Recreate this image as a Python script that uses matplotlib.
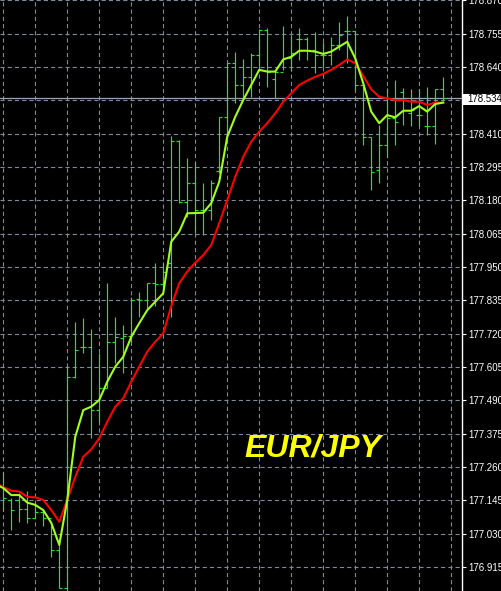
import matplotlib
matplotlib.use("Agg")
import matplotlib.pyplot as plt
from matplotlib.patches import Rectangle
import numpy as np

# ---- data (EUR/JPY HLC bars, bar index 0..55) ----
bar_high = [177.244, 177.153, 177.170, 177.178, 177.136, 177.112, 177.060, 177.008, 177.609, 177.761,
            177.775, 177.735, 177.653, 177.896, 177.778, 177.750, 177.846, 177.865, 177.896, 177.965,
            177.964, 178.402, 178.388, 178.325, 178.313, 178.239, 178.250, 178.467, 178.653, 178.693,
            178.666, 178.687, 178.770, 178.773, 178.630, 178.781, 178.750, 178.773, 178.742, 178.760,
            178.727, 178.744, 178.796, 178.816, 178.765, 178.578, 178.399, 178.440, 178.566, 178.595,
            178.566, 178.563, 178.563, 178.570, 178.563, 178.606]
bar_low = [177.112, 177.043, 177.071, 177.068, 177.084, 177.056, 176.950, 176.842, 176.840, 177.566,
           177.654, 177.359, 177.416, 177.531, 177.620, 177.585, 177.692, 177.776, 177.807, 177.815,
           177.877, 177.777, 178.170, 178.123, 178.066, 178.060, 178.112, 178.273, 178.399, 178.515,
           178.526, 178.537, 178.630, 178.572, 178.532, 178.630, 178.627, 178.664, 178.664, 178.620,
           178.641, 178.647, 178.699, 178.653, 178.561, 178.371, 178.216, 178.241, 178.330, 178.371,
           178.440, 178.436, 178.436, 178.405, 178.374, 178.526]
bar_open = [177.194, 177.146, 177.146, 177.115, 177.084, 177.105, 177.084, 176.974, 176.842, 177.570,
            177.674, 177.674, 177.457, 177.531, 177.692, 177.704, 177.712, 177.838, 177.836, 177.894,
            177.891, 177.964, 178.386, 178.175, 178.239, 178.147, 178.147, 178.280, 178.466, 178.653,
            178.578, 178.606, 178.681, 178.768, 178.597, 178.624, 178.670, 178.735, 178.735, 178.699,
            178.681, 178.681, 178.716, 178.765, 178.765, 178.578, 178.399, 178.285, 178.371, 178.464,
            178.555, 178.480, 178.474, 178.436, 178.436, 178.563]
bar_close = [177.153, 177.112, 177.115, 177.084, 177.105, 177.084, 176.974, 176.842, 177.570, 177.664,
             177.674, 177.457, 177.531, 177.690, 177.707, 177.712, 177.836, 177.836, 177.894, 177.891,
             177.933, 178.386, 178.175, 178.239, 178.147, 178.147, 178.239, 178.466, 178.653, 178.578,
             178.606, 178.681, 178.768, 178.624, 178.624, 178.670, 178.687, 178.735, 178.699, 178.681,
             178.681, 178.716, 178.750, 178.765, 178.578, 178.399, 178.279, 178.371, 178.464, 178.451,
             178.492, 178.492, 178.474, 178.436, 178.563, 178.534]

# moving averages, index -1..55
ma_fast = [177.201, 177.187, 177.163, 177.163, 177.137, 177.129, 177.111, 177.067, 176.991, 177.146,
           177.364, 177.456, 177.468, 177.491, 177.554, 177.606, 177.640, 177.709, 177.756, 177.801,
           177.830, 177.859, 178.037, 178.072, 178.135, 178.136, 178.137, 178.170, 178.244, 178.399,
           178.468, 178.526, 178.578, 178.630, 178.624, 178.624, 178.666, 178.675, 178.696, 178.696,
           178.693, 178.685, 178.693, 178.710, 178.727, 178.670, 178.584, 178.486, 178.446, 178.474,
           178.466, 178.489, 178.489, 178.505, 178.486, 178.512, 178.517]
ma_slow = [177.205, 177.190, 177.178, 177.175, 177.157, 177.155, 177.146, 177.111, 177.071, 177.146,
           177.226, 177.295, 177.321, 177.359, 177.416, 177.468, 177.497, 177.554, 177.606, 177.658,
           177.692, 177.721, 177.815, 177.894, 177.934, 177.965, 177.991, 178.026, 178.101, 178.181,
           178.261, 178.330, 178.382, 178.417, 178.446, 178.480, 178.520, 178.549, 178.578, 178.593,
           178.606, 178.616, 178.630, 178.647, 178.666, 178.653, 178.609, 178.563, 178.537, 178.532,
           178.526, 178.526, 178.520, 178.520, 178.509, 178.517, 178.517]

price_ticks = [176.915, 177.030, 177.145, 177.260, 177.375, 177.490, 177.605, 177.720, 177.835,
               177.950, 178.065, 178.180, 178.295, 178.410, 178.525, 178.640, 178.755, 178.870]
last_price = 178.534
symbol = "EUR/JPY"

# ---- figure ----
W, H = 502, 591
plt.rcParams["lines.scale_dashes"] = False
fig = plt.figure(figsize=(W / 100, H / 100), dpi=100, facecolor="black")
ax = fig.add_axes([0, 0, 462.0 / W, 1.0], facecolor="black")

grid_col = "#7f8aa0"

n = len(bar_high)
idx = np.arange(n)
ma_idx = np.arange(-1, n)

ax.set_xlim(-0.41, 57.35)
ax.set_ylim(176.832, 178.871)

# grid
ax.set_xticks(np.arange(0, 60, 4))
ax.set_yticks(price_ticks)
ax.grid(True, color=grid_col, linewidth=0.8, linestyle=(0, (3.0, 2.2)))
ax.set_axisbelow(True)

# bars
bar_col = "#2EE02E"
half = 0.375
ax.vlines(idx, bar_low, bar_high, color=bar_col, linewidth=0.85, zorder=3)
ax.hlines(bar_open, idx - half, idx, color=bar_col, linewidth=0.85, zorder=3)
ax.hlines(bar_close, idx, idx + half, color=bar_col, linewidth=0.85, zorder=3)

# price line
ax.axhline(last_price, color="#9aa4b4", linewidth=0.9, zorder=2)

# moving averages
ax.plot(ma_idx, ma_slow, color="#FF0000", linewidth=1.5, zorder=4)
ax.plot(ma_idx, ma_fast, color="#A0FF1E", linewidth=1.5, zorder=5)

# symbol text
ax.text(0.530, 1 - 456.7 / H, symbol, transform=ax.transAxes, color="#FFFF00",
        fontsize=23, fontweight="bold", fontstyle="italic", family="Liberation Sans",
        ha="left", va="baseline", zorder=6)

# axes styling
for s in ["left", "top", "bottom"]:
    ax.spines[s].set_visible(False)
ax.spines["right"].set_color("white")
ax.spines["right"].set_linewidth(1.0)
ax.yaxis.tick_right()
ax.tick_params(axis="y", colors="white", labelcolor="white", length=2.9, width=0.8,
               labelsize=7.0, pad=1.4)
labels = [("" if abs(v - 178.525) < 1e-6 else f"{v:.3f}") for v in price_ticks]
ax.set_yticklabels(labels)
for lbl in ax.get_yticklabels():
    lbl.set_family("Liberation Sans")
ax.tick_params(axis="x", length=0, labelbottom=False)

# last price label box
fig.patches.append(Rectangle((463.3 / W, 1 - 104.5 / H), (W - 463.3) / W, 11.0 / H,
                             transform=fig.transFigure, facecolor="white",
                             edgecolor="none", zorder=5))
fig.text(467.8 / W, 1 - 99.0 / H, f"{last_price:.3f}", color="black", fontsize=7.0,
         family="Liberation Sans", ha="left", va="center", zorder=6)

fig.savefig("out.png", dpi=100, facecolor="black")
